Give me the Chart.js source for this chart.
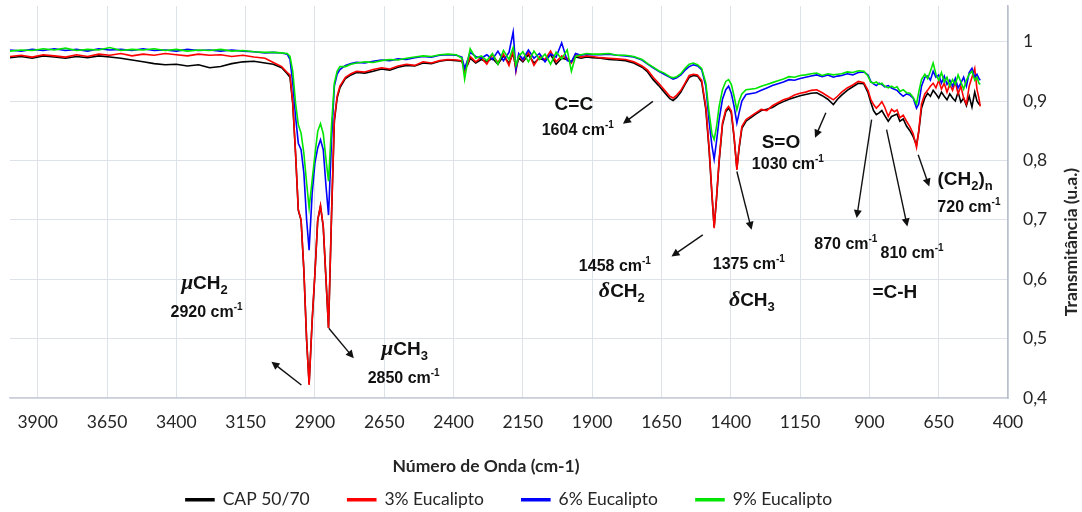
<!DOCTYPE html>
<html>
<head>
<meta charset="utf-8">
<script src="https://cdn.jsdelivr.net/npm/chart.js@4.4.1/dist/chart.umd.min.js"></script>
<style>
  html, body { margin: 0; padding: 0; background: #fff; }
  canvas { display: block; }
</style>
</head>
<body>
<canvas id="ftir" width="1082" height="512"></canvas>
<script>
// wavenumbers (cm-1), shared by all four spectra
const waveNumbers = [
  4000,3960,3920,3880,3840,3800,3760,3720,3680,3640,3600,3560,3520,3480,3440,3400,3360,3320,3280,3240,3200,3160,3120,3080,
  3050,3020,3000,2990,2980,2970,2960,2950,2940,2930,2921,2910,2900,2890,2880,2870,2860,2851,2840,2830,2820,2810,
  2790,2770,2750,2720,2690,2660,2630,2600,2570,2540,2510,2480,2450,2420,2390,
  2370,2360,2350,2340,2320,2300,2280,2260,2240,2220,2200,2185,2175,2165,2150,2130,2110,2090,2070,2050,2030,2010,1990,1975,1960,1940,1920,1900,
  1870,1840,1810,1780,1750,1720,1700,1680,1660,1640,1620,1608,1595,1580,1565,1550,1535,1520,1505,1490,1478,
  1468,1460,1452,1442,1430,1418,1408,1398,1388,1378,1370,1360,1345,
  1310,1290,1270,1250,1230,1210,1190,1170,1150,1130,1110,1090,1070,1050,1030,1015,
  1000,980,960,940,920,905,895,885,875,865,855,845,832,820,810,800,790,778,766,754,742,730,722,712,700,
  690,680,670,660,650,640,630,620,610,600,590,580,570,560,550,540,530,520,512,505,500
];

const cap5070 = [
  0.973,0.975,0.972,0.976,0.974,0.972,0.975,0.973,0.976,0.974,0.972,0.969,0.966,0.963,0.961,0.962,0.959,0.961,0.956,0.958,0.963,0.966,0.967,0.964,
  0.962,0.956,0.946,0.940,0.895,0.812,0.716,0.699,0.615,0.497,0.424,0.530,0.610,0.699,0.723,0.688,0.598,0.518,0.710,0.866,0.905,0.922,
  0.938,0.944,0.948,0.947,0.950,0.954,0.952,0.957,0.960,0.959,0.964,0.963,0.967,0.969,0.968,
  0.967,0.955,0.960,0.972,0.964,0.970,0.966,0.972,0.962,0.976,0.964,0.980,0.955,0.972,0.966,0.978,0.964,0.972,0.968,0.978,0.962,0.972,0.970,0.966,0.974,0.972,0.974,0.973,
  0.972,0.970,0.969,0.968,0.964,0.957,0.949,0.936,0.926,0.915,0.904,0.901,0.906,0.915,0.928,0.940,0.943,0.942,0.932,0.886,0.816,
  0.742,0.688,0.732,0.798,0.860,0.882,0.888,0.880,0.838,0.786,0.820,0.854,0.866,
  0.878,0.884,0.886,0.889,0.895,0.899,0.903,0.906,0.909,0.911,0.913,0.914,0.909,0.903,0.894,0.903,
  0.910,0.918,0.924,0.930,0.929,0.914,0.898,0.884,0.877,0.880,0.884,0.876,0.866,0.874,0.876,0.878,0.866,0.870,0.858,0.850,0.840,0.826,0.848,0.888,0.905,
  0.913,0.908,0.918,0.912,0.905,0.915,0.908,0.902,0.912,0.905,0.900,0.915,0.898,0.905,0.892,0.908,0.890,0.915,0.900,0.895,0.893
];

const eucalipto3 = [
  0.975,0.977,0.974,0.978,0.976,0.974,0.978,0.975,0.979,0.977,0.980,0.976,0.979,0.977,0.980,0.978,0.976,0.979,0.977,0.978,0.975,0.977,0.974,0.972,
  0.965,0.958,0.948,0.944,0.897,0.813,0.717,0.700,0.616,0.498,0.422,0.531,0.611,0.700,0.724,0.689,0.599,0.518,0.712,0.869,0.908,0.925,
  0.940,0.946,0.950,0.949,0.953,0.956,0.954,0.959,0.962,0.960,0.966,0.964,0.968,0.970,0.969,
  0.968,0.950,0.962,0.975,0.966,0.973,0.962,0.978,0.965,0.979,0.960,0.985,0.950,0.977,0.968,0.982,0.960,0.975,0.970,0.984,0.966,0.976,0.972,0.964,0.978,0.974,0.976,0.975,
  0.973,0.972,0.971,0.970,0.966,0.959,0.952,0.940,0.930,0.919,0.908,0.905,0.910,0.918,0.930,0.943,0.945,0.944,0.935,0.890,0.820,
  0.745,0.686,0.734,0.801,0.863,0.885,0.891,0.883,0.840,0.784,0.823,0.857,0.869,
  0.880,0.886,0.884,0.892,0.897,0.902,0.905,0.910,0.913,0.915,0.918,0.919,0.914,0.908,0.902,0.908,
  0.915,0.922,0.927,0.933,0.931,0.918,0.903,0.894,0.888,0.893,0.899,0.890,0.874,0.886,0.882,0.885,0.872,0.876,0.866,0.857,0.845,0.822,0.850,0.895,0.912,
  0.918,0.925,0.930,0.922,0.935,0.920,0.930,0.915,0.928,0.918,0.932,0.912,0.925,0.905,0.895,0.925,0.940,0.955,0.920,0.905,0.891
];

const eucalipto6 = [
  0.986,0.984,0.987,0.985,0.988,0.985,0.987,0.984,0.988,0.986,0.987,0.985,0.988,0.985,0.986,0.984,0.987,0.985,0.986,0.984,0.986,0.984,0.983,0.981,
  0.982,0.981,0.979,0.970,0.930,0.874,0.829,0.818,0.779,0.700,0.649,0.745,0.796,0.821,0.835,0.818,0.756,0.708,0.835,0.925,0.945,0.953,
  0.960,0.963,0.965,0.964,0.967,0.969,0.968,0.971,0.970,0.973,0.975,0.974,0.977,0.978,0.977,
  0.974,0.955,0.968,0.982,0.975,0.972,0.978,0.970,0.984,0.968,0.982,1.016,0.953,0.980,0.970,0.986,0.972,0.980,0.966,0.979,0.974,0.998,0.968,0.966,0.980,0.977,0.979,0.978,
  0.978,0.979,0.977,0.976,0.974,0.969,0.962,0.956,0.950,0.945,0.940,0.937,0.939,0.944,0.952,0.958,0.961,0.959,0.953,0.925,0.865,
  0.825,0.802,0.830,0.869,0.903,0.919,0.925,0.913,0.891,0.863,0.880,0.900,0.911,
  0.914,0.918,0.922,0.926,0.929,0.932,0.936,0.935,0.938,0.940,0.942,0.944,0.941,0.944,0.940,0.942,
  0.943,0.946,0.944,0.948,0.949,0.944,0.933,0.929,0.926,0.930,0.928,0.924,0.926,0.922,0.920,0.918,0.913,0.908,0.912,0.910,0.905,0.888,0.895,0.925,0.940,
  0.942,0.935,0.950,0.940,0.944,0.930,0.942,0.928,0.935,0.925,0.938,0.922,0.930,0.940,0.925,0.948,0.955,0.940,0.945,0.938,0.935
];

const eucalipto9 = [
  0.984,0.986,0.985,0.988,0.986,0.989,0.985,0.987,0.986,0.990,0.985,0.987,0.986,0.988,0.985,0.987,0.984,0.986,0.985,0.987,0.984,0.985,0.983,0.982,
  0.982,0.981,0.980,0.975,0.950,0.897,0.860,0.846,0.812,0.762,0.720,0.767,0.810,0.849,0.862,0.845,0.801,0.765,0.860,0.930,0.950,0.958,
  0.958,0.962,0.964,0.966,0.965,0.968,0.970,0.969,0.972,0.974,0.976,0.975,0.978,0.979,0.978,
  0.972,0.937,0.965,0.988,0.972,0.976,0.968,0.980,0.962,0.985,0.970,0.990,0.960,0.975,0.983,0.966,0.984,0.970,0.979,0.962,0.982,0.971,0.986,0.950,0.975,0.978,0.980,0.979,
  0.979,0.980,0.977,0.977,0.975,0.970,0.963,0.957,0.951,0.947,0.941,0.939,0.941,0.946,0.955,0.962,0.964,0.961,0.955,0.930,0.880,
  0.845,0.835,0.855,0.891,0.919,0.933,0.936,0.928,0.908,0.885,0.900,0.912,0.919,
  0.921,0.925,0.928,0.931,0.934,0.937,0.941,0.940,0.943,0.944,0.946,0.947,0.943,0.946,0.944,0.945,
  0.946,0.949,0.948,0.951,0.950,0.942,0.932,0.930,0.932,0.928,0.930,0.925,0.922,0.925,0.922,0.924,0.916,0.919,0.914,0.913,0.906,0.895,0.915,0.936,0.945,
  0.938,0.950,0.964,0.945,0.935,0.948,0.932,0.940,0.925,0.936,0.928,0.944,0.932,0.920,0.935,0.945,0.950,0.935,0.940,0.930,0.928
];

const seriesNames = ['CAP 50/70', '3% Eucalipto', '6% Eucalipto', '9% Eucalipto'];
const seriesColors = ['#000000', '#ff0000', '#0000ff', '#00e600'];
const xTicks = [3900, 3650, 3400, 3150, 2900, 2650, 2400, 2150, 1900, 1650, 1400, 1150, 900, 650, 400];
const yTicks = [0.4, 0.5, 0.6, 0.7, 0.8, 0.9, 1.0];

// band labels: [wavenumber, transmittance] anchor + text runs [text, kind, size, yshift]
const bandLabels = [
  [3298, 0.5955, [['\u03bc', 'g', 21], ['CH', 'b', 19], ['2', 'b', 13, 5]]],
  [3291, 0.5466, [['2920 cm', 'b', 16], ['-1', 'b', 10, -7]]],
  [2576, 0.4843, [['\u03bc', 'g', 21], ['CH', 'b', 19], ['3', 'b', 13, 5]]],
  [2580, 0.4354, [['2850 cm', 'b', 16], ['-1', 'b', 10, -7]]],
  [1966, 0.8972, [['C=C', 'b', 19]]],
  [1952, 0.8517, [['1604 cm', 'b', 16], ['-1', 'b', 10, -7]]],
  [1219, 0.8332, [['S=O', 'b', 19]]],
  [1194, 0.7961, [['1030 cm', 'b', 16], ['-1', 'b', 10, -7]]],
  [1818, 0.6242, [['1458 cm', 'b', 16], ['-1', 'b', 10, -7]]],
  [1793, 0.5837, [['\u03b4', 'g', 22], ['CH', 'b', 19], ['2', 'b', 13, 5]]],
  [1335, 0.6275, [['1375 cm', 'b', 16], ['-1', 'b', 10, -7]]],
  [1324, 0.5685, [['\u03b4', 'g', 22], ['CH', 'b', 19], ['3', 'b', 13, 5]]],
  [985, 0.6613, [['870 cm', 'b', 16], ['-1', 'b', 10, -7]]],
  [746, 0.6461, [['810 cm', 'b', 16], ['-1', 'b', 10, -7]]],
  [808, 0.5803, [['=C-H', 'b', 19]]],
  [555, 0.7708, [['(CH', 'b', 19], ['2', 'b', 13, 5], [')', 'b', 19], ['n', 'b', 13, 5]]],
  [541, 0.7236, [['720 cm', 'b', 16], ['-1', 'b', 10, -7]]]
];
// arrows: from [wn, T] to [wn, T]
const bandArrows = [
  [2949, 0.4219, 3057, 0.4612],
  [2850, 0.5175, 2760, 0.4669],
  [1681, 0.8994, 1789, 0.8618],
  [1057, 0.8804, 1096, 0.8382],
  [1501, 0.6747, 1614, 0.6382],
  [1378, 0.7814, 1325, 0.6832],
  [892, 0.8686, 946, 0.7029],
  [838, 0.8517, 763, 0.6887],
  [724, 0.8096, 684, 0.7561]
];

const FONT = 'Lato, "Open Sans", sans-serif';

function runFont(kind, size) {
  if (kind === 'g') return 'italic bold ' + size + 'px "Liberation Serif", "DejaVu Serif", serif';
  return 'bold ' + size + 'px "Liberation Sans", Arial, sans-serif';
}

function drawRuns(ctx, runs, cx, cy) {
  let w = 0, maxSize = 0;
  runs.forEach(r => {
    ctx.font = runFont(r[1], r[2]);
    w += ctx.measureText(r[0]).width;
    if (!r[3]) maxSize = Math.max(maxSize, r[2]);
  });
  let x = cx - w / 2;
  const base = cy + maxSize * 0.36;
  runs.forEach(r => {
    ctx.font = runFont(r[1], r[2]);
    ctx.fillText(r[0], x, base + (r[3] || 0));
    x += ctx.measureText(r[0]).width;
  });
}

function drawArrow(ctx, x1, y1, x2, y2) {
  const ang = Math.atan2(y2 - y1, x2 - x1);
  const len = 8, half = 4;
  ctx.beginPath();
  ctx.moveTo(x1, y1);
  ctx.lineTo(x2 - Math.cos(ang) * len * 0.8, y2 - Math.sin(ang) * len * 0.8);
  ctx.stroke();
  ctx.beginPath();
  ctx.moveTo(x2, y2);
  ctx.lineTo(x2 - Math.cos(ang) * len - Math.sin(ang) * half, y2 - Math.sin(ang) * len + Math.cos(ang) * half);
  ctx.lineTo(x2 - Math.cos(ang) * len + Math.sin(ang) * half, y2 - Math.sin(ang) * len - Math.cos(ang) * half);
  ctx.closePath();
  ctx.fill();
}

const annotationPlugin = {
  id: 'bands',
  afterLayout(chart) {
    // centre the legend row under the plot area, like the original
    const a = chart.chartArea;
    chart.legend.left = a.left;
    chart.legend.right = a.right;
  },
  afterDatasetsDraw(chart) {
    const ctx = chart.ctx;
    const xs = chart.scales.x, ys = chart.scales.y;
    ctx.save();
    ctx.fillStyle = '#111';
    ctx.strokeStyle = '#111';
    ctx.lineWidth = 1.4;
    ctx.textAlign = 'left';
    ctx.textBaseline = 'alphabetic';
    bandLabels.forEach(l => drawRuns(ctx, l[2], xs.getPixelForValue(l[0]), ys.getPixelForValue(l[1])));
    bandArrows.forEach(a => drawArrow(ctx,
      xs.getPixelForValue(a[0]), ys.getPixelForValue(a[1]),
      xs.getPixelForValue(a[2]), ys.getPixelForValue(a[3])));
    ctx.restore();
  },
  afterDraw(chart) {
    const ctx = chart.ctx;
    ctx.save();
    ctx.fillStyle = '#262626';
    ctx.font = 'bold 17.5px ' + FONT;
    ctx.textAlign = 'center';
    ctx.textBaseline = 'middle';
    ctx.fillText('Número de Onda (cm-1)', 486, 466);
    ctx.translate(1071, 242);
    ctx.rotate(-Math.PI / 2);
    ctx.fillText('Transmitância (u.a.)', 0, 0);
    ctx.restore();
  }
};

const datasets = [cap5070, eucalipto3, eucalipto6, eucalipto9].map((vals, i) => ({
  label: seriesNames[i],
  data: waveNumbers.map((w, j) => ({ x: w, y: vals[j] })),
  borderColor: seriesColors[i],
  backgroundColor: seriesColors[i],
  borderWidth: 1.6,
  pointRadius: 0,
  tension: 0,
  order: 3 - i   // green on top, black at the bottom
}));

new Chart(document.getElementById('ftir').getContext('2d'), {
  type: 'line',
  data: { datasets },
  options: {
    responsive: false,
    animation: false,
    devicePixelRatio: 1,
    layout: { padding: { left: 10, top: 6, right: 0, bottom: 0 } },
    plugins: {
      legend: {
        position: 'bottom',
        maxHeight: 59,
        labels: {
          color: '#262626',
          font: { family: FONT, size: 17.5 },
          boxWidth: 28,
          boxHeight: 2,
          padding: 38,
          sort: (a, b) => a.datasetIndex - b.datasetIndex
        }
      },
      tooltip: { enabled: false },
      title: { display: false }
    },
    scales: {
      x: {
        type: 'linear',
        reverse: true,
        min: 400,
        max: 4000,
        afterBuildTicks: s => { s.ticks = xTicks.map(v => ({ value: v })); },
        afterFit: s => { s.height = 512 - 59 - 398; s.paddingLeft = 0; s.paddingRight = 0; },
        grid: { color: '#dde1e8', drawTicks: false },
        border: { color: '#c9cfd9', width: 1.5 },
        ticks: {
          color: '#262626',
          font: { family: FONT, size: 17.5 },
          padding: 14,
          autoSkip: false,
          maxRotation: 0,
          callback: v => String(v)
        }
      },
      y: {
        position: 'right',
        min: 0.4,
        max: 1.06,
        afterBuildTicks: s => { s.ticks = yTicks.map(v => ({ value: v })); },
        afterFit: s => { s.width = 74; s.paddingTop = 0; s.paddingBottom = 0; },
        grid: { color: '#dde1e8', drawTicks: false },
        border: { color: '#b9c0cc', width: 1.5 },
        ticks: {
          color: '#262626',
          font: { family: FONT, size: 17.5 },
          padding: 15,
          callback: v => String(+v.toFixed(1)).replace('.', ',')
        }
      }
    }
  },
  plugins: [annotationPlugin]
});
</script>
</body>
</html>
